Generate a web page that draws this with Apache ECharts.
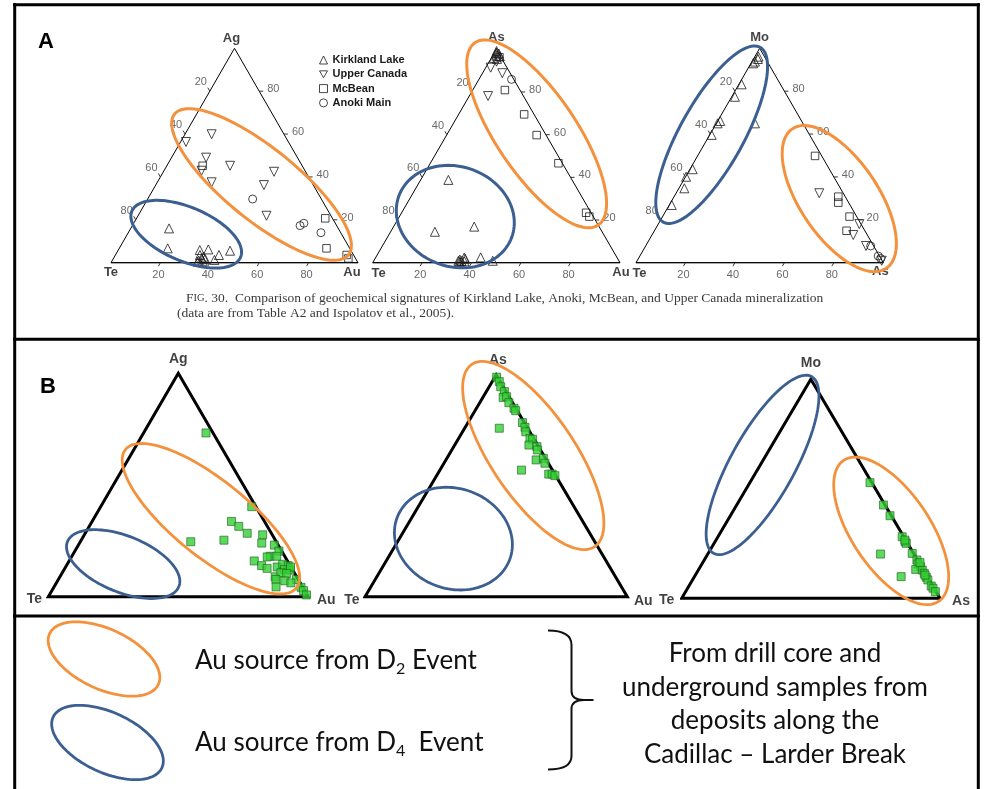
<!DOCTYPE html>
<html>
<head>
<meta charset="utf-8">
<script src="https://cdn.jsdelivr.net/npm/echarts@6/dist/echarts.min.js"></script>
<style>html,body{margin:0;padding:0;background:#fff}#c{width:986px;height:789px}</style>
</head>
<body>
<div id="c"></div>
<script>
// ================= DATA =================
// Tick labels printed on every edge of the panel-A diagrams
const tickValues = [20, 40, 60, 80];

// Every point is [right-vertex %, top-vertex %]; left-vertex % = 100 - sum.
// Panel A, diagram 1 : Te (left) - Au (right) - Ag (top)
const a1Kirkland = [[15.5,16.0],[19.6,6.7],[33.0,5.9],[36.3,6.2],[45.4,5.6],[41.9,3.6],[41.2,1.3],[34.2,3.6],[35.7,2.0],[36.7,0.9],[35.0,1.0],[36.0,2.8],[34.8,0.5],[37.2,1.8]];
const a1UpperCanada = [[10.8,59.9],[2.2,56.3],[14.0,49.0],[15.2,42.9],[25.6,45.2],[44.8,42.4],[43.8,36.2],[22.0,37.5],[52.0,21.9]];
const a1McBean = [[14.5,45.2],[76.4,20.7],[83.9,6.7],[93.6,3.6],[95.1,2.0]];
const a1Anoki = [[42.5,29.7],[67.9,17.3],[68.9,18.4],[78.0,14.0]];

// Panel A, diagram 2 : Te (left) - Au (right) - As (top)
const a2Kirkland = [[11.2,38.8],[17.9,14.5],[32.6,16.9],[42.4,2.5],[48.1,0.9],[34.5,1.5],[35.5,0.8],[36.5,1.8],[35.0,0.4],[36.8,0.6],[35.8,2.4],[34.2,0.9],[0.8,98.5],[1.5,97.0],[2.5,95.5],[1.0,96.0],[2.0,98.0],[3.0,96.8],[0.5,99.2]];
const a2UpperCanada = [[2.0,91.4],[8.0,88.8],[7.6,78.1],[3.0,94.2]];
const a2McBean = [[13.0,80.9],[26.5,69.5],[36.4,59.8],[51.8,46.6],[74.6,23.4],[76.8,21.6],[3.1,96.3]];
const a2Anoki = [[13.2,85.9]];

// Panel A, diagram 3 : Te (left) - As (right) - Mo (top)
const a3Kirkland = [[1.5,96.1],[1.2,93.8],[0.9,93.0],[1.8,95.0],[1.1,83.2],[1.3,77.4],[1.0,66.1],[0.5,65.0],[0.8,59.6],[1.1,43.6],[0.2,40.1],[2.2,34.7],[1.0,26.9],[15.6,65.0]];
const a3UpperCanada = [[57.9,32.4],[81.3,18.0],[81.4,12.9],[89.1,7.8],[98.9,0.9]];
const a3McBean = [[47.5,49.8],[66.4,30.8],[67.8,28.0],[75.6,21.5],[77.7,14.9]];
const a3Anoki = [[91.0,7.8],[96.4,3.1],[97.9,2.0]];

// Panel B samples (Cadillac - Larder Break)
const b1Samples = [[24.0,73.3],[58.1,40.3],[53.6,33.7],[57.5,31.5],[62.3,28.4],[68.6,27.7],[42.5,24.6],[54.9,25.3],[70.1,24.0],[75.4,23.1],[78.5,20.4],[76.3,18.1],[75.3,17.8],[78.8,18.1],[71.2,16.0],[75.1,13.9],[77.8,12.7],[81.4,13.3],[82.9,14.5],[85.3,13.9],[84.7,12.2],[87.1,11.9],[86.5,13.3],[82.8,8.9],[84.1,10.7],[86.5,10.4],[91.6,7.7],[83.7,7.7],[87.4,7.1],[90.2,6.2],[85.4,4.4],[95.1,4.2],[96.8,2.7],[98.9,0.8]];
const b2Samples = [[0.7,99.0],[2.7,97.0],[4.4,94.7],[6.9,92.5],[7.7,89.9],[8.9,90.2],[11.1,87.5],[14.3,85.0],[15.5,83.9],[20.8,78.5],[22.8,76.4],[24.1,74.4],[13.2,76.0],[27.2,71.4],[28.4,71.0],[28.3,68.4],[31.7,67.7],[32.6,66.2],[34.4,61.7],[36.8,62.4],[38.5,60.2],[31.1,57.1],[42.4,55.3],[43.7,55.3],[45.1,54.6]];
const b3Samples = [[46.5,52.8],[56.8,42.6],[61.8,37.7],[71.3,28.1],[73.6,25.8],[74.4,25.1],[73.1,26.6],[79.0,20.5],[66.9,20.2],[82.3,17.5],[83.6,15.7],[85.3,14.4],[84.0,13.2],[86.7,12.9],[88.2,11.4],[89.9,9.6],[91.1,8.4],[93.8,5.6],[95.0,4.6],[96.7,3.0],[80.0,9.9],[84.1,16.3],[88.9,10.6]];

// Vertex names [left, right, top]
const namesA1 = ['Te','Au','Ag'], namesA2 = ['Te','Au','As'], namesA3 = ['Te','As','Mo'];
const legendNames = ['Kirkland Lake','Upper Canada','McBean','Anoki Main'];

// ================= ANNOTATION SHAPES (region outlines) =================
// [centre right %, centre top %, semi-major, semi-minor (in % of edge), tilt deg]; first D2 (orange), then D4 (blue)
const regionsA1 = [[42.7,36.5,45.3,14.6,-39],[23.8,13.3,23.9,10.9,-23]];
const regionsA2 = [[36.1,60.4,44.5,16.2,-56],[22.6,21.6,24.3,20.2,-20]];
const regionsA3 = [[67.25,29.9,34.0,15.8,-56],[0.75,59.7,40.4,12.9,61]];
const regionsB1 = [[45.1,34.9,42.3,14.6,-39],[21.5,14.6,23.1,10.8,-22]];
const regionsB2 = [[32.3,63.7,41.9,16.0,-56],[20.6,26.2,22.9,19.1,-20]];
const regionsB3 = [[65.7,30.8,32.9,15.1,-56],[0.85,60.9,39.1,12.4,61]];

// ================= BUILD =================
const ORANGE = '#F4913D', BLUE = '#3C5F91';
const regionColors = [ORANGE, BLUE];
const VERTS = [[0,0],[100,0],[0,100]];
function tern(p){ return [p[0] + p[1]/2, p[1]]; }

const grids = [
  {left:111,   top:48.3,  width:247,   height:214.4},
  {left:372.7, top:49.3,  width:247.3, height:213.4},
  {left:636,   top:48.3,  width:247.3, height:214.4},
  {left:48.3,  top:373.3, width:260,   height:223.4},
  {left:365,   top:375,   width:262.3, height:221.7},
  {left:681.7, top:379.3, width:258.3, height:219}
];

const series = [];
function frame(i, w){
  series.push({type:'line', xAxisIndex:i, yAxisIndex:i, data:[VERTS[0],VERTS[1],VERTS[2],VERTS[0],VERTS[1]].map(tern),
    symbol:'none', clip:false, silent:true, z:3, animation:false,
    lineStyle:{color:'#000', width:w, join:'miter', cap:'butt'}});
}
function vlabels(i, names, offs, fs){
  series.push({type:'scatter', xAxisIndex:i, yAxisIndex:i, symbolSize:0, clip:false, silent:true, z:6,
    data: VERTS.map((v,k)=>({value:tern(v), name:names[k], label:{offset:offs[k]}})),
    label:{show:true, position:'inside', formatter:'{b}', fontFamily:'Liberation Sans', fontWeight:'bold', fontSize:fs, color:'#111'}});
}
function ticks(i){
  const data = [];
  tickValues.forEach(v => {
    data.push(tern([0, 100 - v]).concat([0, v]));
    data.push(tern([100 - v, v]).concat([1, v]));
    data.push(tern([v, 0]).concat([2, v]));
  });
  const dirs = [[-0.5,-0.866],[1,0],[-0.5,0.866]];
  const offs = [[-9,-9],[8,-2],[-2,12]];
  const al = ['center','left','center'];
  series.push({type:'custom', xAxisIndex:i, yAxisIndex:i, clip:false, silent:true, z:5, data,
    renderItem(params, api){
      const p = api.coord([api.value(0), api.value(1)]);
      const e = api.value(2);
      return {type:'group', children:[
        {type:'line', shape:{x1:p[0], y1:p[1], x2:p[0]+dirs[e][0]*4, y2:p[1]+dirs[e][1]*4}, style:{stroke:'#333', lineWidth:1}},
        {type:'text', x:p[0]+offs[e][0], y:p[1]+offs[e][1], style:{text:String(api.value(3)), fill:'#6a6a6a', font:'11px "Liberation Sans"', align:al[e], verticalAlign:'middle'}}
      ]};
    }});
}
function regions(i, list, lw){
  series.push({type:'custom', xAxisIndex:i, yAxisIndex:i, clip:false, silent:true, z:7,
    data: list.map(r => tern([r[0], r[1]]).concat([r[2], r[3], r[4]])),
    renderItem(params, api){
      const c = api.coord([api.value(0), api.value(1)]);
      const ra = api.size([api.value(2), 0])[0];
      const rb = api.size([api.value(3), 0])[0];
      const th = api.value(4) * Math.PI / 180;
      const pts = [];
      for (let k = 0; k < 120; k++) {
        const f = k / 120 * 2 * Math.PI;
        const ex = ra * Math.cos(f), ey = rb * Math.sin(f);
        pts.push([c[0] + ex*Math.cos(th) - ey*Math.sin(th), c[1] - (ex*Math.sin(th) + ey*Math.cos(th))]);
      }
      return {type:'polygon', shape:{points:pts}, style:{fill:'none', stroke:regionColors[params.dataIndex], lineWidth:lw}};
    }});
}
const hollow = {color:'rgba(255,255,255,0)', borderColor:'#1a1a1a', borderWidth:1};
function markers(i, sets){
  const sym = [['triangle',9,0],['triangle',9,180],['rect',7.5,0],['circle',8,0]];
  sets.forEach((d,k)=>{
    series.push({type:'scatter', name:legendNames[k], xAxisIndex:i, yAxisIndex:i, data:d.map(tern),
      symbol:sym[k][0], symbolSize:sym[k][1], symbolRotate:sym[k][2], clip:false, z:4, itemStyle:hollow});
  });
}
function greens(i, d){
  series.push({type:'scatter', name:'samples', xAxisIndex:i, yAxisIndex:i, data:d.map(tern), symbol:'rect', symbolSize:8,
    clip:false, z:4, itemStyle:{color:'#35d135', borderColor:'#1f5f1f', borderWidth:0.8}});
}

// Panel A
frame(0,1); frame(1,1); frame(2,1);
ticks(0); ticks(1); ticks(2);
markers(0,[a1Kirkland,a1UpperCanada,a1McBean,a1Anoki]);
markers(1,[a2Kirkland,a2UpperCanada,a2McBean,a2Anoki]);
markers(2,[a3Kirkland,a3UpperCanada,a3McBean,a3Anoki]);
regions(0,regionsA1,3); regions(1,regionsA2,3); regions(2,regionsA3,3);
vlabels(0,namesA1,[[0,9.5],[-6,10],[-3,-10]],13);
vlabels(1,namesA2,[[6,11],[1,10],[0,-12]],13);
vlabels(2,namesA3,[[3.5,10.5],[-3,9],[0,-11]],13);
// Panel B
frame(3,3); frame(4,3); frame(5,3);
greens(3,b1Samples); greens(4,b2Samples); greens(5,b3Samples);
regions(3,regionsB1,2.8); regions(4,regionsB2,2.8); regions(5,regionsB3,2.8);
vlabels(3,namesA1,[[-14,2],[18,3],[0,-14]],14);
vlabels(4,namesA2,[[-13,3],[16,4],[1.7,-15]],14);
vlabels(5,namesA3,[[-15,2],[21,3],[0,-16.6]],14);

const axis = grids.map((g,i)=>({gridIndex:i, type:'value', min:0, max:100, show:false}));

function ellipsePts(cx, cy, a, b, deg){
  const th = deg*Math.PI/180, pts = [];
  for (let k=0;k<120;k++){ const f=k/120*2*Math.PI; const ex=a*Math.cos(f), ey=b*Math.sin(f);
    pts.push([cx+ex*Math.cos(th)-ey*Math.sin(th), cy-(ex*Math.sin(th)+ey*Math.cos(th))]); }
  return pts;
}
const BORDER = {stroke:'#000', lineWidth:3};
const calibri = 'Lato';
const richLegend = {n:{fontFamily:calibri, fontSize:26, lineHeight:32, fill:'#111'}, s:{fontFamily:calibri, fontSize:16, lineHeight:16, verticalAlign:'bottom', fill:'#111'}};
const graphic = [
  {type:'line', shape:{x1:13, y1:4.7, x2:980, y2:4.7}, style:BORDER},
  {type:'line', shape:{x1:14.7, y1:3.2, x2:14.7, y2:800}, style:BORDER},
  {type:'line', shape:{x1:978.3, y1:3.2, x2:978.3, y2:800}, style:BORDER},
  {type:'line', shape:{x1:13, y1:339.2, x2:980, y2:339.2}, style:BORDER},
  {type:'line', shape:{x1:13, y1:616, x2:980, y2:616}, style:BORDER},
  {type:'text', x:46, y:42, style:{text:'A', font:'bold 22px "Liberation Sans"', fill:'#000', align:'center', verticalAlign:'middle'}},
  {type:'text', x:48, y:387, style:{text:'B', font:'bold 22px "Liberation Sans"', fill:'#000', align:'center', verticalAlign:'middle'}},
  {type:'text', x:186, y:298, style:{text:'F{sc|IG}. 30.  Comparison of geochemical signatures of Kirkland Lake, Anoki, McBean, and Upper Canada mineralization',
     font:'13.5px "Liberation Serif"', fill:'#3a3a3a', verticalAlign:'middle', rich:{sc:{font:'10.5px "Liberation Serif"', fill:'#3a3a3a'}}}},
  {type:'text', x:177, y:313, style:{text:'(data are from Table A2 and Ispolatov et al., 2005).', font:'13.5px "Liberation Serif"', fill:'#3a3a3a', verticalAlign:'middle'}},
  {type:'polygon', shape:{points:ellipsePts(104,659,60,30,-25)}, style:{fill:'none', stroke:ORANGE, lineWidth:2.8}},
  {type:'polygon', shape:{points:ellipsePts(107.5,742.5,60,30,-25)}, style:{fill:'none', stroke:BLUE, lineWidth:2.8}},
  {type:'text', x:195, y:661, style:{text:'{n|Au source from D}{s|2}{n| Event}', verticalAlign:'middle', rich:richLegend}},
  {type:'text', x:195, y:743, style:{text:'{n|Au source from D}{s|4}{n|  Event}', verticalAlign:'middle', rich:richLegend}},
  {type:'text', x:775, y:704, style:{text:'From drill core and\nunderground samples from\ndeposits along the\nCadillac \u2013 Larder Break',
     fontFamily:calibri, fontSize:26, lineHeight:33.5, fill:'#111', align:'center', verticalAlign:'middle'}},
  {type:'bezierCurve', shape:{x1:548, y1:630.5, cpx1:571.5, cpy1:630.5, x2:571.5, y2:645}, style:{stroke:'#111', lineWidth:2, fill:'none'}},
  {type:'line', shape:{x1:571.5, y1:645, x2:571.5, y2:691}, style:{stroke:'#111', lineWidth:2}},
  {type:'bezierCurve', shape:{x1:571.5, y1:691, cpx1:571.5, cpy1:700, x2:584, y2:700}, style:{stroke:'#111', lineWidth:2, fill:'none'}},
  {type:'line', shape:{x1:584, y1:700, x2:593.5, y2:700}, style:{stroke:'#111', lineWidth:2}},
  {type:'bezierCurve', shape:{x1:584, y1:700, cpx1:571.5, cpy1:700, x2:571.5, y2:709}, style:{stroke:'#111', lineWidth:2, fill:'none'}},
  {type:'line', shape:{x1:571.5, y1:709, x2:571.5, y2:756}, style:{stroke:'#111', lineWidth:2}},
  {type:'bezierCurve', shape:{x1:571.5, y1:756, cpx1:571.5, cpy1:769.5, x2:548, y2:769.5}, style:{stroke:'#111', lineWidth:2, fill:'none'}}
];

const chart = echarts.init(document.getElementById('c'));
chart.setOption({
  animation:false,
  backgroundColor:'#fff',
  grid: grids,
  xAxis: axis,
  yAxis: axis.map(a=>Object.assign({}, a)),
  legend: {orient:'vertical', left:319, top:53.5, padding:0, itemWidth:8, itemHeight:8, itemGap:1.3, selectedMode:false,
    itemStyle: hollow,
    textStyle:{fontFamily:'Liberation Sans', fontWeight:'bold', fontSize:11, lineHeight:13, color:'#1a1a1a'},
    data:[{name:'Kirkland Lake', icon:'triangle'},{name:'Upper Canada', icon:'path://M0,0L10,0L5,8.66Z'},{name:'McBean', icon:'rect'},{name:'Anoki Main', icon:'circle'}]},
  series,
  graphic
});
</script>
</body>
</html>
